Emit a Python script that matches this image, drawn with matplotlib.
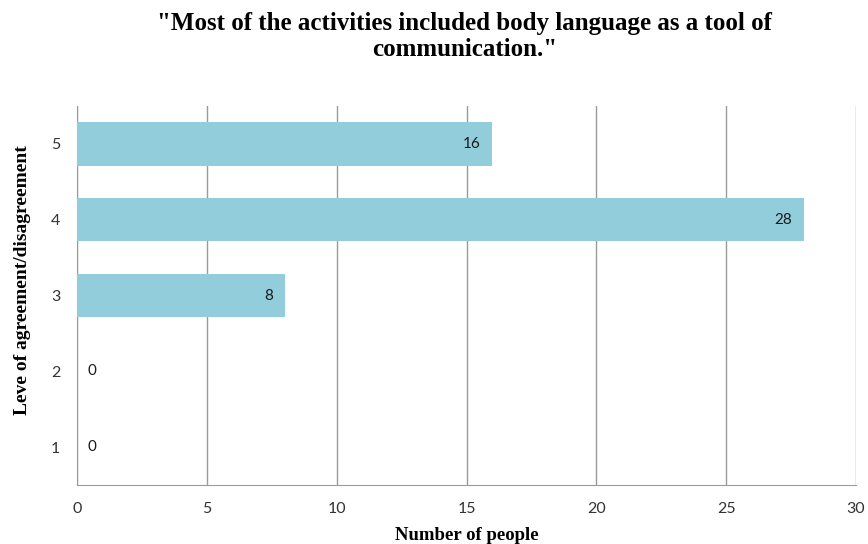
import matplotlib.pyplot as plt

levels = ["1", "2", "3", "4", "5"]
counts = [0, 0, 8, 28, 16]

fig = plt.figure(figsize=(8.68, 5.44), dpi=100)
ax = fig.add_axes([77 / 868, 1 - 485 / 544, 779 / 868, 379 / 544])

pos = list(range(1, len(levels) + 1))
ax.barh(pos, counts, height=0.57, color="#92CDDC", zorder=3)

for y, v in zip(pos, counts):
    if v > 0:
        ax.text(v - 0.45, y, str(v), ha="right", va="center",
                fontsize=11, family="Lato", color="#1a1a1a", zorder=4)
    else:
        ax.text(0.4, y, str(v), ha="left", va="center",
                fontsize=11, family="Lato", color="#1a1a1a", zorder=4)

ax.set_xlim(0, 30)
ax.set_ylim(0.5, 5.5)
ax.set_xticks(range(0, 31, 5))
ax.set_yticks(pos)
ax.set_yticklabels(levels)
ax.tick_params(length=0, labelsize=11.5, pad=12)
for lab in ax.get_xticklabels() + ax.get_yticklabels():
    lab.set_family("Lato")
    lab.set_color("#333333")

ax.grid(axis="x", color="#9a9a9a", linewidth=1, zorder=0)
for side in ["top", "right"]:
    ax.spines[side].set_visible(False)
ax.spines["left"].set_color("#9a9a9a")
ax.spines["bottom"].set_color("#9a9a9a")

ax.set_xlabel("Number of people", fontsize=13.5, fontweight="bold",
              family="Liberation Serif", labelpad=8)
ax.set_ylabel("Leve of agreement/disagreement", fontsize=14, fontweight="bold",
              family="Liberation Serif")
ax.yaxis.set_label_coords(-0.059, 0.54)

fig.text(0.535, 0.978, '"Most of the activities included body language as a tool of\ncommunication."',
         ha="center", va="top", fontsize=18, fontweight="bold",
         family="Liberation Serif", linespacing=1.15)

fig.savefig("out.png", dpi=100)
